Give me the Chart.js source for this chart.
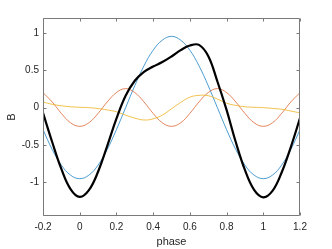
<!DOCTYPE html>
<html>
<head>
<meta charset="utf-8">
<script src="https://cdn.jsdelivr.net/npm/chart.js@4/dist/chart.umd.min.js"></script>
<style>
html, body { margin: 0; padding: 0; background: #fff; }
#wrap { width: 332px; height: 249px; }
</style>
</head>
<body>
<div id="wrap"><canvas id="phaseChart"></canvas></div>
<script>
// phase grid and the four B components
var phase = [-0.2, -0.15, -0.1, -0.05, 0, 0.05, 0.1, 0.15, 0.2, 0.25, 0.3, 0.35, 0.4, 0.45, 0.5,
             0.55, 0.6, 0.65, 0.7, 0.75, 0.8, 0.85, 0.9, 0.95, 1, 1.05, 1.1, 1.15, 1.2];
var blueB = [-0.294, -0.559, -0.769, -0.903, -0.95, -0.903, -0.769, -0.559, -0.294, 0, 0.294, 0.559, 0.769, 0.903, 0.955,
             0.903, 0.769, 0.559, 0.294, 0, -0.294, -0.559, -0.769, -0.903, -0.95, -0.903, -0.769, -0.559, -0.294];
var orangeB = [0.2, 0.077, -0.077, -0.202, -0.25, -0.202, -0.077, 0.077, 0.202, 0.255, 0.202, 0.077, -0.077, -0.202, -0.25,
               -0.202, -0.077, 0.077, 0.202, 0.255, 0.202, 0.077, -0.077, -0.202, -0.25, -0.202, -0.077, 0.077, 0.2];
var yellowB = [0.075, 0.045, 0.025, 0.012, 0.005, 0, -0.012, -0.03, -0.055, -0.1, -0.14, -0.165, -0.15, -0.1, -0.015,
               0.07, 0.14, 0.165, 0.16, 0.115, 0.06, 0.03, 0.012, 0.005, 0, -0.01, -0.022, -0.045, -0.07];
var blackB = [-0.07, -0.46, -0.82, -1.09, -1.195, -1.105, -0.858, -0.512, -0.147, 0.16, 0.36, 0.48, 0.55, 0.61, 0.685,
              0.77, 0.832, 0.84, 0.69, 0.35, -0.03, -0.46, -0.834, -1.1, -1.2, -1.115, -0.868, -0.527, -0.14];

var xTicks = [-0.2, 0, 0.2, 0.4, 0.6, 0.8, 1, 1.2];
var yTicks = [-1, -0.5, 0, 0.5, 1];

function pts(ys) {
  return phase.map(function (p, i) { return { x: p, y: ys[i] }; });
}

// matlab style box with inward ticks on all four sides
var boxTicks = {
  id: 'boxTicks',
  afterDraw: function (chart) {
    var ctx = chart.ctx, a = chart.chartArea;
    var xs = chart.scales.x, ys = chart.scales.y;
    var L = Math.round(a.left) + 0.5, R = Math.round(a.right) - 0.5;
    var T = Math.round(a.top) + 0.5, B = Math.round(a.bottom) - 0.5;
    ctx.save();
    ctx.strokeStyle = '#7a7a7a';
    ctx.lineWidth = 1;
    ctx.beginPath();
    ctx.rect(L, T, R - L, B - T);
    xTicks.forEach(function (v) {
      var px = Math.round(xs.getPixelForValue(v)) + 0.5;
      ctx.moveTo(px, B); ctx.lineTo(px, B - 3);
      ctx.moveTo(px, T); ctx.lineTo(px, T + 3);
    });
    yTicks.forEach(function (v) {
      var py = Math.round(ys.getPixelForValue(v)) + 0.5;
      ctx.moveTo(L, py); ctx.lineTo(L + 3, py);
      ctx.moveTo(R, py); ctx.lineTo(R - 3, py);
    });
    ctx.stroke();
    ctx.restore();
  }
};

var tickFont = { family: 'Liberation Sans', size: 10 };

new Chart(document.getElementById('phaseChart'), {
  type: 'line',
  data: {
    datasets: [
      { data: pts(blackB), borderColor: '#000000', borderWidth: 2.2 },
      { data: pts(yellowB), borderColor: '#EDB120', borderWidth: 0.8 },
      { data: pts(orangeB), borderColor: '#D95319', borderWidth: 0.7 },
      { data: pts(blueB), borderColor: '#0072BD', borderWidth: 0.7 }
    ]
  },
  options: {
    responsive: true,
    maintainAspectRatio: false,
    animation: false,
    elements: { point: { radius: 0 }, line: { tension: 0.4, fill: false } },
    layout: { padding: { top: 18, right: 32, left: 0, bottom: 0 } },
    plugins: { legend: { display: false }, tooltip: { enabled: false } },
    scales: {
      x: {
        type: 'linear', min: -0.2, max: 1.2,
        grid: { display: false, drawTicks: false }, border: { display: false },
        afterBuildTicks: function (s) { s.ticks = xTicks.map(function (v) { return { value: v }; }); },
        afterFit: function (s) { s.height = 33; },
        ticks: { padding: 5, color: '#262626', font: tickFont, maxRotation: 0,
                 callback: function (v) { return String(v); } },
        title: { display: true, text: 'phase', color: '#262626', font: { family: 'Liberation Sans', size: 11 }, padding: 0 }
      },
      y: {
        min: -1.45, max: 1.2,
        grid: { display: false, drawTicks: false }, border: { display: false },
        afterBuildTicks: function (s) { s.ticks = yTicks.map(function (v) { return { value: v }; }); },
        afterFit: function (s) { s.width = 43; },
        ticks: { padding: 4, color: '#262626', font: tickFont,
                 callback: function (v) { return String(v); } },
        title: { display: true, text: 'B', color: '#262626', font: { family: 'Liberation Sans', size: 11 }, padding: { top: 5 } }
      }
    }
  },
  plugins: [boxTicks]
});
</script>
</body>
</html>
